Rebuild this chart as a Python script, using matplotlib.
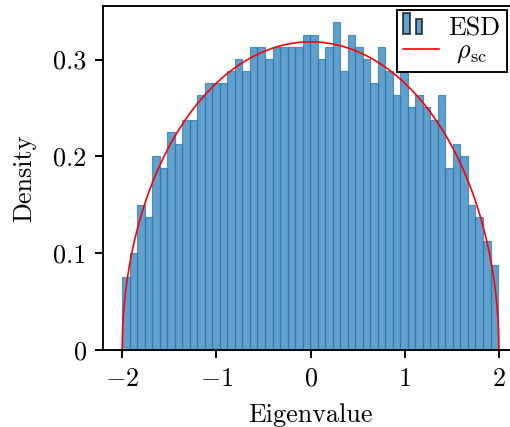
import numpy as np
import matplotlib
matplotlib.use("Agg")
import matplotlib.pyplot as plt
from matplotlib.patches import Rectangle
from matplotlib.legend_handler import HandlerBase

plt.rcParams.update({
    "font.family": "serif",
    "font.serif": ["cmr10", "DejaVu Serif"],
    "mathtext.fontset": "cm",
    "axes.unicode_minus": False,
    "axes.formatter.use_mathtext": True,
    "font.size": 11,
})

# histogram of the 1000 eigenvalues, 50 bins over the spectrum
n_eig = 1000
lo, hi = -2.0, 1.99
counts = [6, 8, 12, 11, 16, 15, 18, 17, 19, 19,
          21, 22, 22, 22, 23, 24, 23, 25, 25, 24,
          25, 25, 25, 25, 26, 26, 24, 25, 27, 23,
          26, 25, 24, 22, 25, 23, 21, 23, 20, 21,
          20, 19, 21, 15, 17, 16, 12, 11, 9, 7]

xticks = [-2, -1, 0, 1, 2]
xticklabels = ["$-2$", "$-1$", "$0$", "$1$", "$2$"]
yticks = [0, 0.1, 0.2, 0.3]
yticklabels = ["0", "0.1", "0.2", "0.3"]

counts = np.array(counts)
edges = np.linspace(lo, hi, len(counts) + 1)
width = edges[1] - edges[0]
density = counts / (n_eig * width)

# semicircle law
xs = np.linspace(-2, 2, 800)
rho_sc = np.sqrt(np.clip(4 - xs**2, 0, None)) / (2 * np.pi)


class TwoBars(HandlerBase):
    # legend glyph: two little histogram bars
    def create_artists(self, legend, orig_handle, xdescent, ydescent,
                       width, height, fontsize, trans):
        x0, y0 = -xdescent, -ydescent + 0.08 * height
        r1 = Rectangle((x0, y0), 0.186 * width, 1.13 * height,
                       facecolor="C0", alpha=0.7, edgecolor="k", lw=0.8, transform=trans)
        r2 = Rectangle((x0 + 0.35 * width, y0), 0.167 * width, 0.82 * height,
                       facecolor="C0", alpha=0.7, edgecolor="k", lw=0.8, transform=trans)
        return [r1, r2]


fig = plt.figure(figsize=(510 / 171, 427 / 171), dpi=171)
ax = fig.add_axes([0.2026, 0.1796, 0.8127, 0.8063])

bars = ax.bar(edges[:-1], density, width=width, align="edge",
              color="C0", alpha=0.7, edgecolor="C0", linewidth=0.5, label="ESD")
line, = ax.plot(xs, rho_sc, color="red", lw=0.7, label=r"$\rho_{\mathrm{sc}}$")

ax.set_xticks(xticks)
ax.set_xticklabels(xticklabels)
ax.set_yticks(yticks)
ax.set_yticklabels(yticklabels)
ax.set_xlabel("Eigenvalue", labelpad=5.3)
ax.set_ylabel("Density", labelpad=7.4)

leg = ax.legend([bars, line], ["ESD", r"$\hspace{0.38}\rho_{\mathrm{sc}}$"],
                handler_map={type(bars): TwoBars()},
                loc="upper right", bbox_to_anchor=(507 / 510, 1 - 10 / 427),
                bbox_transform=fig.transFigure, borderaxespad=0,
                borderpad=0.25, labelspacing=-0.05, handlelength=1.38,
                handletextpad=0.35, fancybox=False, framealpha=1, edgecolor="k")
leg.get_frame().set_linewidth(0.8)

fig.savefig("out.png", dpi=171)
